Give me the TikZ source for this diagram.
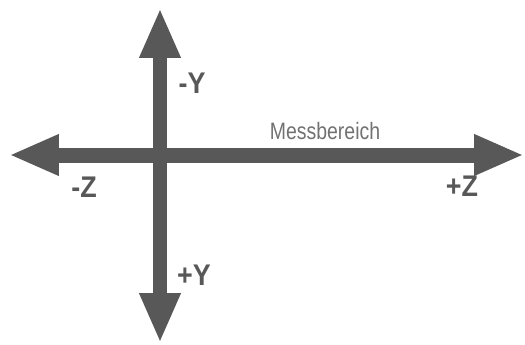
\documentclass[tikz,border=0pt]{standalone}
\usepackage{fontspec}
\setmainfont{Liberation Sans}
\usetikzlibrary{arrows.meta}
\definecolor{axisgray}{HTML}{585858}
\newcommand{\narrowtext}[2][0.82]{\scalebox{#1}[1]{#2}}

\begin{document}
\begin{tikzpicture}[
    x=0.02cm, y=-0.02cm,
    axis/.style={draw=axisgray, line width=0.3cm,
                 {Triangle[width=0.76cm, length=1.0cm]}-{Triangle[width=0.76cm, length=1.0cm]}},
    axlbl/.style={font=\fontsize{17}{19}\selectfont\bfseries, text=axisgray, inner sep=0pt},
    rangelbl/.style={font=\fontsize{13.5}{15}\selectfont, text=axisgray!85!white, inner sep=0pt},
  ]

  \useasboundingbox (0,0) rectangle (525,345);

  %% ================================================================
  %% Axis end points
  %% ================================================================
  \coordinate (zminus) at (9, 155);
  \coordinate (zplus)  at (524, 155);
  \coordinate (yminus) at (160, 8);
  \coordinate (yplus)  at (160, 343);

  \draw[axis] (zminus) -- (zplus);
  \draw[axis] (yminus) -- (yplus);

  %% ================================================================
  %% Labels
  %% ================================================================
  \node[axlbl] (lYm) at (192, 83)  {\narrowtext[0.9]{-Y}};
  \node[axlbl] (lYp) at (194, 275) {\narrowtext[0.9]{+Y}};
  \node[axlbl] (lZm) at (84, 187)  {\narrowtext[0.9]{-Z}};
  \node[axlbl] (lZp) at (462, 186) {\narrowtext[0.9]{+Z}};

  \node[rangelbl] (lrange) at (325, 131) {\narrowtext{Messbereich}};

\end{tikzpicture}
\end{document}
